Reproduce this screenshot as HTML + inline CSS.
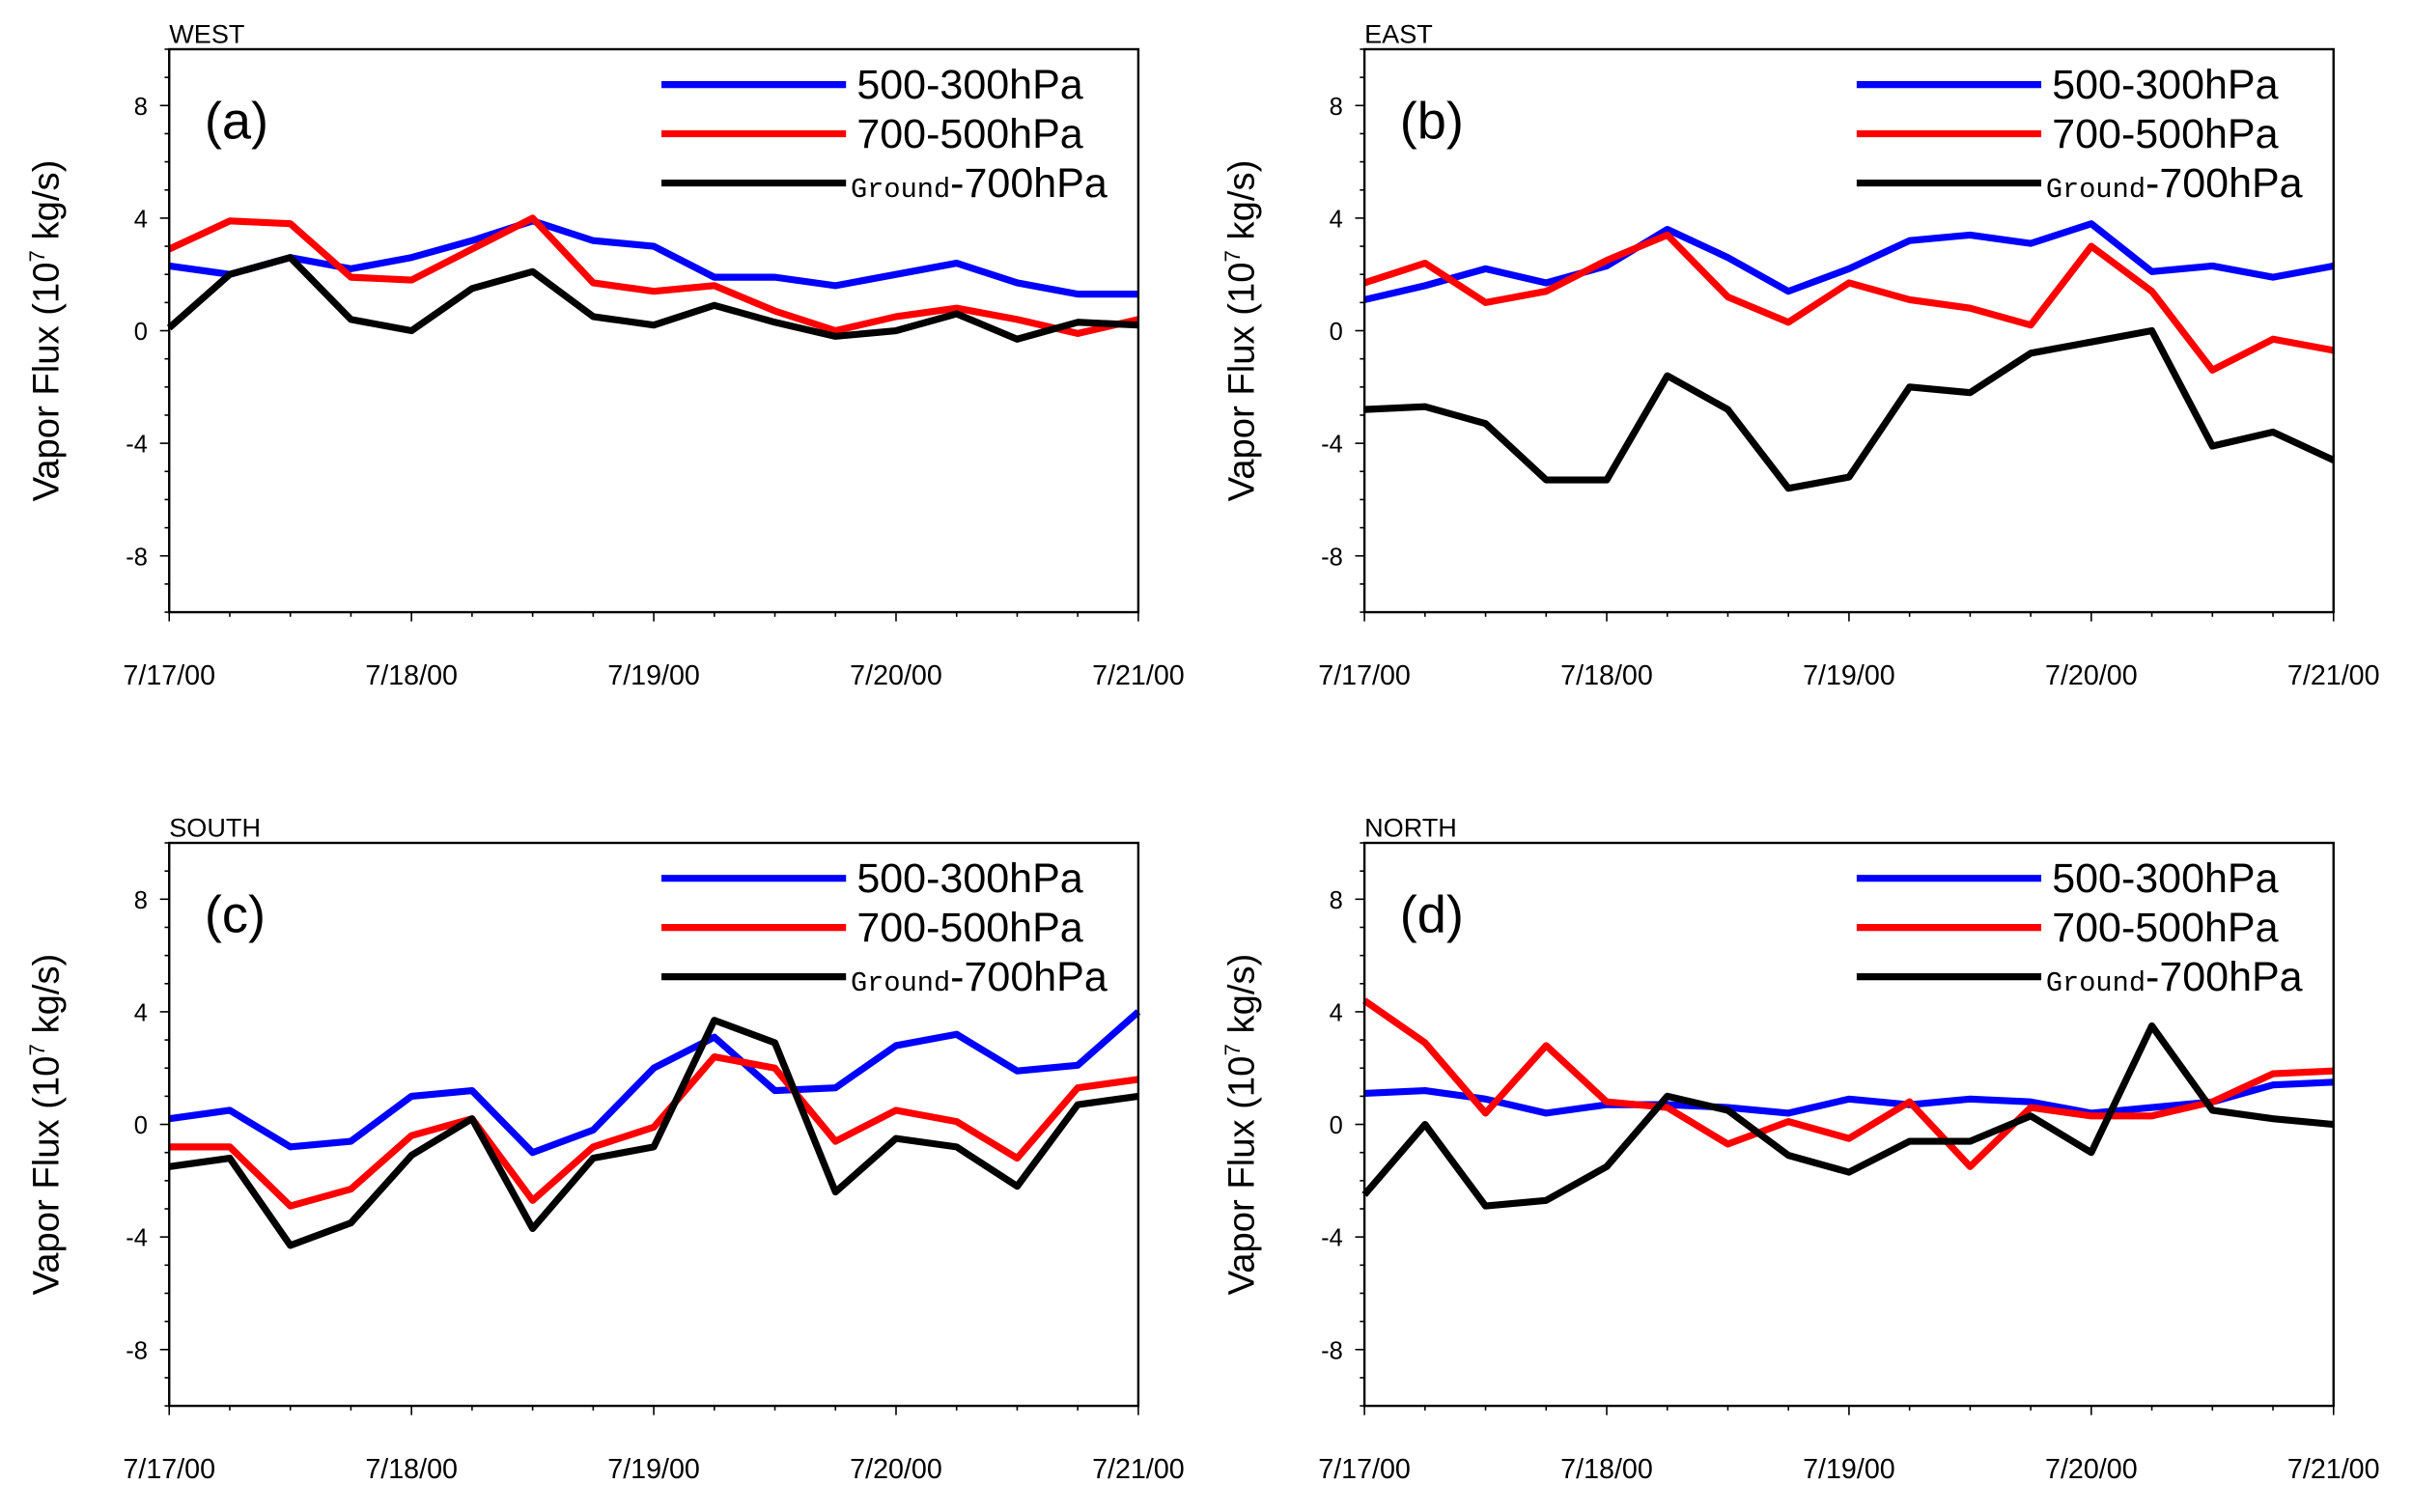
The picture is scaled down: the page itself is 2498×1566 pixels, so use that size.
<!DOCTYPE html>
<html><head><meta charset="utf-8"><style>
html,body{margin:0;padding:0;background:#fff}
svg{display:block}
text{font-family:"Liberation Sans",sans-serif}
</style></head><body>
<svg id="chart" width="2498" height="1566" viewBox="0 0 1568 983" preserveAspectRatio="none" xmlns="http://www.w3.org/2000/svg"></svg>
<script>
const xLabels = ["7/17/00","7/18/00","7/19/00","7/20/00","7/21/00"];
const yTicks = [8,4,0,-4,-8];
const seriesNames = ["500-300hPa","700-500hPa","Ground-700hPa"];
const westBlue = [2.3,2.0,2.6,2.2,2.6,3.2,3.9,3.2,3.0,1.9,1.9,1.6,2.0,2.4,1.7,1.3,1.3];
const westRed = [2.9,3.9,3.8,1.9,1.8,2.9,4.0,1.7,1.4,1.6,0.7,0.0,0.5,0.8,0.4,-0.1,0.4];
const westBlack = [0.1,2.0,2.6,0.4,0.0,1.5,2.1,0.5,0.2,0.9,0.3,-0.2,0.0,0.6,-0.3,0.3,0.2];
const eastBlue = [1.1,1.6,2.2,1.7,2.3,3.6,2.6,1.4,2.2,3.2,3.4,3.1,3.8,2.1,2.3,1.9,2.3];
const eastRed = [1.7,2.4,1.0,1.4,2.5,3.4,1.2,0.3,1.7,1.1,0.8,0.2,3.0,1.4,-1.4,-0.3,-0.7];
const eastBlack = [-2.8,-2.7,-3.3,-5.3,-5.3,-1.6,-2.8,-5.6,-5.2,-2.0,-2.2,-0.8,-0.4,0.0,-4.1,-3.6,-4.6];
const southBlue = [0.2,0.5,-0.8,-0.6,1.0,1.2,-1.0,-0.2,2.0,3.1,1.2,1.3,2.8,3.2,1.9,2.1,4.0];
const southRed = [-0.8,-0.8,-2.9,-2.3,-0.4,0.2,-2.7,-0.8,-0.1,2.4,2.0,-0.6,0.5,0.1,-1.2,1.3,1.6];
const southBlack = [-1.5,-1.2,-4.3,-3.5,-1.1,0.2,-3.7,-1.2,-0.8,3.7,2.9,-2.4,-0.5,-0.8,-2.2,0.7,1.0];
const northBlue = [1.1,1.2,0.9,0.4,0.7,0.7,0.6,0.4,0.9,0.7,0.9,0.8,0.4,0.6,0.8,1.4,1.5];
const northRed = [4.4,2.9,0.4,2.8,0.8,0.6,-0.7,0.1,-0.5,0.8,-1.5,0.6,0.3,0.3,0.8,1.8,1.9];
const northBlack = [-2.5,0.0,-2.9,-2.7,-1.5,1.0,0.5,-1.1,-1.7,-0.6,-0.6,0.3,-1.0,3.5,0.5,0.2,0.0];

const NS="http://www.w3.org/2000/svg";
const svg=document.getElementById('chart');
function el(tag,attrs,parent,txt){const e=document.createElementNS(NS,tag);for(const k in attrs)e.setAttribute(k,attrs[k]);if(txt!==undefined)e.textContent=txt;(parent||svg).appendChild(e);return e;}
const colors=["#0000ff","#ff0000","#000000"];
const panels=[
 {id:"west",title:"WEST",tag:"(a)",x0:110,y0:32,data:[westBlue,westRed,westBlack]},
 {id:"east",title:"EAST",tag:"(b)",x0:887,y0:32,data:[eastBlue,eastRed,eastBlack]},
 {id:"south",title:"SOUTH",tag:"(c)",x0:110,y0:548,data:[southBlue,southRed,southBlack]},
 {id:"north",title:"NORTH",tag:"(d)",x0:887,y0:548,data:[northBlue,northRed,northBlack]}
];
const W=630,H=366;
panels.forEach(p=>{
 const g=el('g',{});
 
 
 const xs=i=>p.x0+i*W/16;
 const ys=v=>p.y0+H/2-v*H/20;
 for(let v=-10;v<=10;v+=1){const major=v%4===0;el('line',{x1:p.x0,x2:p.x0-(major?6:3),y1:ys(v),y2:ys(v),stroke:"#000","stroke-width":1},g);}
 for(let i=0;i<=16;i++){const major=i%4===0;el('line',{x1:xs(i),x2:xs(i),y1:p.y0+H,y2:p.y0+H+(major?6:3),stroke:"#000","stroke-width":1},g);}
 yTicks.forEach(v=>{const t=el('text',{x:p.x0-14,y:ys(v)+6,"text-anchor":"end","font-size":16},g,String(v));
  
  });
 xLabels.forEach((l,i)=>{const t=el('text',{x:xs(i*4),y:p.y0+H+47,"text-anchor":"middle","font-size":18},g,l);
  
  });
 const yl=el('text',{x:0,y:0,"text-anchor":"middle","font-size":24,transform:`translate(${p.x0-72},${p.y0+H/2}) rotate(-90)`},g);
 
 
 yl.innerHTML='Vapor Flux (10<tspan dy="-9" font-size="14">7</tspan><tspan dy="9"> kg/s)</tspan>';
 const ti=el('text',{x:p.x0,y:p.y0-4,"font-size":17},g,p.title);
 
 
 const tg=el('text',{x:p.x0+23,y:p.y0+58,"font-size":34},g,p.tag);
 
 
 p.data.forEach((arr,s)=>{
  const pts=arr.map((v,i)=>xs(i)+','+ys(v)).join(' ');
  const pl=el('polyline',{points:pts,fill:"none",stroke:colors[s],"stroke-width":4.5,"stroke-linejoin":"round"},g);
  
  
 });
 seriesNames.forEach((n,s)=>{
  const ly=p.y0+23+s*32;
  const lg=el('g',{},g);
  
  
  el('line',{x1:p.x0+320,x2:p.x0+440,y1:ly,y2:ly,stroke:colors[s],"stroke-width":4.5},lg);
  if(s<2) el('text',{x:p.x0+447,y:ly+9,"font-size":27},lg,n);
  else { const t=el('text',{x:p.x0+443,y:ly+9,"font-size":27},lg);
    t.innerHTML='<tspan font-size="18" font-family="Liberation Mono">Ground</tspan>-700hPa'; }
 });
 const box=el('rect',{x:p.x0,y:p.y0,width:W,height:H,fill:"none",stroke:"#000","stroke-width":1.5},g);
 
 
});
</script>
</body></html>
